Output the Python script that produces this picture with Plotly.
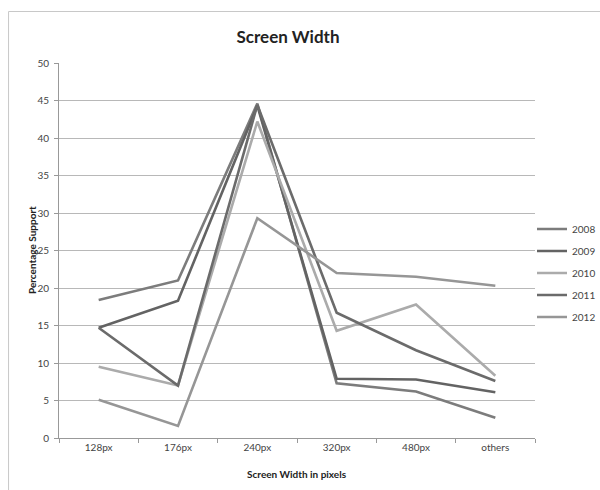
import plotly.graph_objects as go

# Screen widths on the x axis
categories = ["128px", "176px", "240px", "320px", "480px", "others"]

# Percentage support per year
years = ["2008", "2009", "2010", "2011", "2012"]
y2008 = [18.4, 21.0, 44.6, 7.3, 6.2, 2.7]
y2009 = [14.7, 18.3, 44.3, 7.9, 7.8, 6.1]
y2010 = [9.5, 7.0, 42.2, 14.3, 17.8, 8.3]
y2011 = [14.7, 7.0, 44.4, 16.7, 11.7, 7.6]
y2012 = [5.1, 1.6, 29.3, 22.0, 21.5, 20.3]

y_ticks = [0, 5, 10, 15, 20, 25, 30, 35, 40, 45, 50]

series = [y2008, y2009, y2010, y2011, y2012]
colors = ["#7c7c7c", "#636363", "#ababab", "#6b6b6b", "#969696"]

FONT = "Lato, 'Open Sans', sans-serif"

fig = go.Figure()
for name, vals, col in zip(years, series, colors):
    fig.add_trace(go.Scatter(
        x=categories, y=vals, name=name, mode="lines",
        line=dict(color=col, width=2.6),
        legendgroup=name,
    ))

fig.update_layout(
    width=600, height=490,
    margin=dict(l=58.5, r=65, t=63, b=52, autoexpand=False),
    paper_bgcolor="white", plot_bgcolor="white",
    font=dict(family=FONT, size=10, color="#444"),
    title=dict(text="<b>Screen Width</b>", x=0.48, xanchor="center",
               y=1 - 37 / 490, yanchor="middle",
               font=dict(family=FONT, size=17, color="#222")),
    showlegend=True,
    legend=dict(xref="container", yref="container",
                x=532 / 600, xanchor="left", y=1 - 273 / 490, yanchor="middle",
                font=dict(size=10, color="#444"), tracegroupgap=3,
                itemwidth=30, bgcolor="rgba(0,0,0,0)"),
)

fig.update_xaxes(
    type="category", tickson="boundaries", ticks="outside", ticklen=4,
    tickcolor="#999", showline=True, linecolor="#999", linewidth=1,
    showgrid=False, tickfont=dict(size=10, color="#444"),
    range=[-0.5, len(categories) - 0.5],
)
fig.update_yaxes(
    range=[0, 50], tickvals=y_ticks, ticks="outside", ticklen=4,
    tickcolor="#999", showline=True, linecolor="#999", linewidth=1,
    showgrid=True, gridcolor="#b8b8b8", gridwidth=1, zeroline=False,
    tickfont=dict(size=10, color="#444"), ticklabelstandoff=3,
)

# Axis titles
fig.add_annotation(text="<b>Percentage Support</b>", xref="paper", yref="paper",
                   x=(31 - 58.5) / 476.5, y=0.5, xanchor="center", yanchor="middle",
                   textangle=-90, showarrow=False,
                   font=dict(size=10, color="#222"))
fig.add_annotation(text="<b>Screen Width in pixels</b>", xref="paper", yref="paper",
                   x=0.5, y=(438 - 474) / 375, xanchor="center", yanchor="middle",
                   showarrow=False, font=dict(size=10, color="#222"))

# Chart area border
fig.add_shape(type="rect", xref="paper", yref="paper",
              x0=(8 - 58.5) / 476.5, x1=(602 - 58.5) / 476.5,
              y0=(438 - 492) / 375, y1=(438 - 11.5) / 375,
              line=dict(color="#c8c8c8", width=1), layer="below")

fig.write_html("out.html")
